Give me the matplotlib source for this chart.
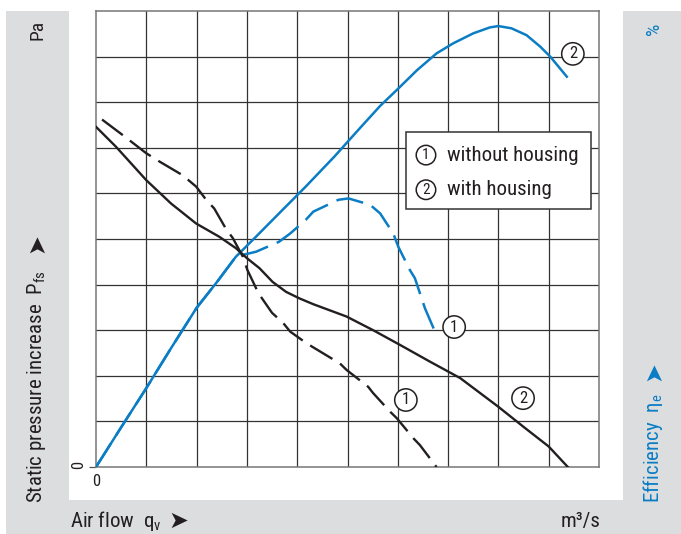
import matplotlib
matplotlib.use("Agg")
import matplotlib.pyplot as plt
from matplotlib import font_manager
from matplotlib.patches import Rectangle

# values, in grid units (10 x 10 grid, the chart gives no scale)
# static pressure, with housing (black solid)
p_with_x = [0, 0.4, 1.0, 1.49, 1.99, 2.45, 2.78, 3.0, 3.25, 3.51, 3.78, 4.04, 4.32, 4.98, 5.51,
            6.04, 6.64, 7.24, 8.0, 8.5, 9.0, 9.38]
p_with_y = [7.46, 7.02, 6.29, 5.78, 5.34, 5.05, 4.8, 4.58, 4.36, 4.06, 3.84, 3.7, 3.57, 3.3, 3.0,
            2.68, 2.31, 1.95, 1.32, 0.88, 0.45, 0]

# static pressure, without housing (black dashed)
p_without_x = [0.12, 0.53, 1.0, 1.26, 1.72, 1.99, 2.19, 2.35, 2.58, 2.72, 2.92, 3.01, 3.23, 3.5,
               3.72, 3.86, 4.19, 4.85, 4.98, 5.41, 5.51, 5.85, 5.98, 6.31, 6.44, 6.77]
p_without_y = [7.62, 7.28, 6.88, 6.7, 6.4, 6.15, 5.86, 5.67, 5.23, 5.02, 4.61, 4.32, 3.81, 3.38,
               3.16, 2.97, 2.71, 2.27, 2.13, 1.76, 1.62, 1.21, 1.07, 0.63, 0.48, 0]

# efficiency, with housing (blue solid)
eta_with_x = [0, 0.5, 1, 1.5, 2, 2.4, 2.78, 3.18, 3.71, 4.17, 4.75, 5.18, 5.65, 6.01, 6.38, 6.77,
              7.1, 7.5, 7.83, 8.0, 8.26, 8.56, 8.83, 9.03, 9.36]
eta_with_y = [0, 0.87, 1.73, 2.62, 3.49, 4.05, 4.61, 5.05, 5.64, 6.15, 6.82, 7.35, 7.92, 8.3, 8.7,
              9.07, 9.29, 9.51, 9.64, 9.67, 9.62, 9.47, 9.22, 9.0, 8.56]

# efficiency, without housing (blue dashed, runs under the solid curve at low flow)
eta_without_x = [0, 0.5, 1, 1.5, 2, 2.4, 2.78, 2.95, 3.18, 3.64, 3.86, 4.17, 4.32, 4.82, 5.02,
                 5.45, 5.65, 5.91, 6.01, 6.24, 6.34, 6.54, 6.77]
eta_without_y = [0, 0.87, 1.73, 2.62, 3.49, 4.05, 4.61, 4.66, 4.72, 4.94, 5.12, 5.42, 5.6, 5.86,
                 5.89, 5.75, 5.56, 5.12, 4.83, 4.32, 4.14, 3.48, 2.89]

W, H = 681, 534
blue = "#0a7dc4"
dark = "#231f20"
grey = "#dcdddf"


def fx(px):
    return px / W


def fy(py):
    return 1 - py / H


installed = {f.name for f in font_manager.fontManager.ttflist}
main_font = "DejaVu Sans"
for name in ["Liberation Sans Narrow", "Roboto Condensed", "Liberation Sans"]:
    if name in installed:
        main_font = name
        break
plt.rcParams["font.family"] = [main_font, "DejaVu Sans"]
plt.rcParams["mathtext.fontset"] = "custom"
plt.rcParams["mathtext.rm"] = main_font
plt.rcParams["text.color"] = dark

fig = plt.figure(figsize=(W / 100, H / 100), dpi=100)

# grey frame panels
for x0, y0, x1, y1 in [(6, 11, 69, 534), (6, 500, 681, 534), (623, 11, 681, 534)]:
    fig.add_artist(Rectangle((fx(x0), fy(y1)), fx(x1) - fx(x0), fy(y0) - fy(y1),
                             transform=fig.transFigure, facecolor=grey, edgecolor="none", zorder=0))

ax = fig.add_axes([fx(96), fy(467), fx(599) - fx(96), fy(11) - fy(467)])
ax.set_xlim(0, 10)
ax.set_ylim(0, 10)
ax.set_xticks([0])
ax.set_xticklabels(["0"])
ax.set_yticks([0])
ax.set_yticklabels(["0"])
ax.set_xticks(range(1, 10), minor=True)
ax.set_yticks(range(1, 10), minor=True)
ax.grid(which="minor", color="#333333", linewidth=0.9)
ax.tick_params(which="minor", length=0)
ax.tick_params(axis="x", which="major", length=0, pad=5, labelsize=12, labelcolor=dark)
ax.tick_params(axis="y", which="major", length=5, width=0.9, pad=2, labelsize=12,
               labelrotation=90, labelcolor=dark, color="#555555")
for s in ax.spines.values():
    s.set_color("#777777")
    s.set_linewidth(1.1)

dash = (0, (11, 3.8))
ax.plot(eta_without_x, eta_without_y, color=blue, lw=1.8, linestyle=dash, zorder=3)
ax.plot(eta_with_x, eta_with_y, color=blue, lw=1.8, zorder=3)
ax.plot(p_without_x, p_without_y, color=dark, lw=1.7, linestyle=dash, zorder=3)
ax.plot(p_with_x, p_with_y, color=dark, lw=1.7, zorder=3)


def circled(x, y, s, size=12, pad=0.22):
    ax.text(x, y, s, ha="center", va="center", fontsize=size, color=dark, zorder=7,
            bbox=dict(boxstyle=f"circle,pad={pad}", facecolor="white", edgecolor=dark, linewidth=1.1))


circled(9.48, 9.06, "2")
circled(7.12, 3.07, "1")
circled(6.16, 1.47, "1")
circled(8.49, 1.51, "2")

# legend box
ax.add_patch(Rectangle((6.16, 5.66), 3.69, 1.69, facecolor="white", edgecolor="#333333",
                       linewidth=1.1, zorder=5))
circled(6.56, 6.84, "1", size=11, pad=0.18)
circled(6.56, 6.08, "2", size=11, pad=0.18)
ax.text(6.98, 6.84, "without housing", fontsize=15, va="center", ha="left", zorder=6)
ax.text(6.98, 6.08, "with housing", fontsize=15, va="center", ha="left", zorder=6)

# axis captions in the grey frame
arrow = dict(family="DejaVu Sans", fontsize=17, ha="center", va="center")
fig.text(fx(37), fy(30), "Pa", rotation=90, ha="center", va="center", fontsize=14)
fig.text(fx(37), fy(503), r"Static pressure increase  $\mathregular{P_{fs}}$", rotation=90,
         ha="center", va="bottom", fontsize=15)
fig.text(fx(36), fy(243), "➤", rotation=90, **arrow)

fig.text(fx(654), fy(29), "%", rotation=90, ha="center", va="center", fontsize=14, color=blue)
fig.text(fx(653), fy(503), r"Efficiency  $\mathregular{η_e}$", rotation=90,
         ha="center", va="bottom", fontsize=15, color=blue)
fig.text(fx(653), fy(371), "➤", rotation=90, color=blue, **arrow)

fig.text(fx(70), fy(521), r"Air flow  $\mathregular{q_v}$", ha="left", va="center", fontsize=15)
fig.text(fx(178), fy(521), "➤", **arrow)
fig.text(fx(600), fy(521), "m³/s", ha="right", va="center", fontsize=15)

fig.savefig("out.png", dpi=100)
